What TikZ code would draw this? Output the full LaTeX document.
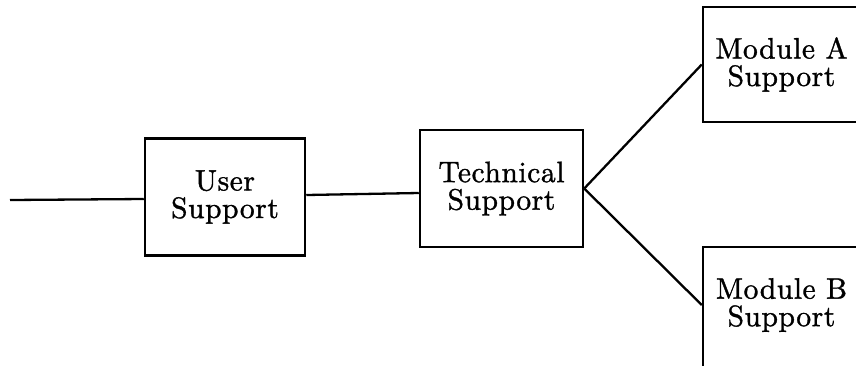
\documentclass[tikz,border=0pt]{standalone}
\usepackage{fontspec}
\newfontfamily\labelrm[FakeBold=1.2, LetterSpace=2]{lmroman10-regular.otf}
\newcommand\boxfont{\labelrm\fontsize{29.5}{27.5}\selectfont}
\tikzset{
  box/.style={draw, line width=2.5pt, minimum width=160pt, minimum height=117pt,
              inner sep=0pt, align=center, font=\boxfont},
  lbl/.style={align=center, font=\boxfont},
  wire/.style={line width=2.3pt},
}
\begin{document}
\begin{tikzpicture}[x=1pt, y=-1pt]
  \useasboundingbox (0,0) rectangle (856,365);
  \clip (0,0) rectangle (856,365);

  % support chain
  \node[box] (user) at (225,197) {User\\Support};
  \node[box, minimum width=163pt] (tech) at (501.5,188.5) {Technical\\Support};
  \node[box, minimum width=157pt, minimum height=115pt] (modA) at (781.5,64.5) {Module A\\Support};
  \node[box, minimum width=157pt, minimum height=150pt,
        label={[lbl, name=modBtxt, yshift=17pt]center:{Module B\\Support}}] (modB) at (781.5,322) {};

  % connectors
  \coordinate (in) at (10,200);
  \draw[wire] (in) -- ([yshift=-2pt]user.west);
  \draw[wire] ([yshift=2pt]user.east) -- ([yshift=-4.5pt]tech.west);
  \draw[wire] (tech.east) -- (modA.west);
  \draw[wire] (tech.east) -- (modB.west |- modBtxt);
\end{tikzpicture}
\end{document}
